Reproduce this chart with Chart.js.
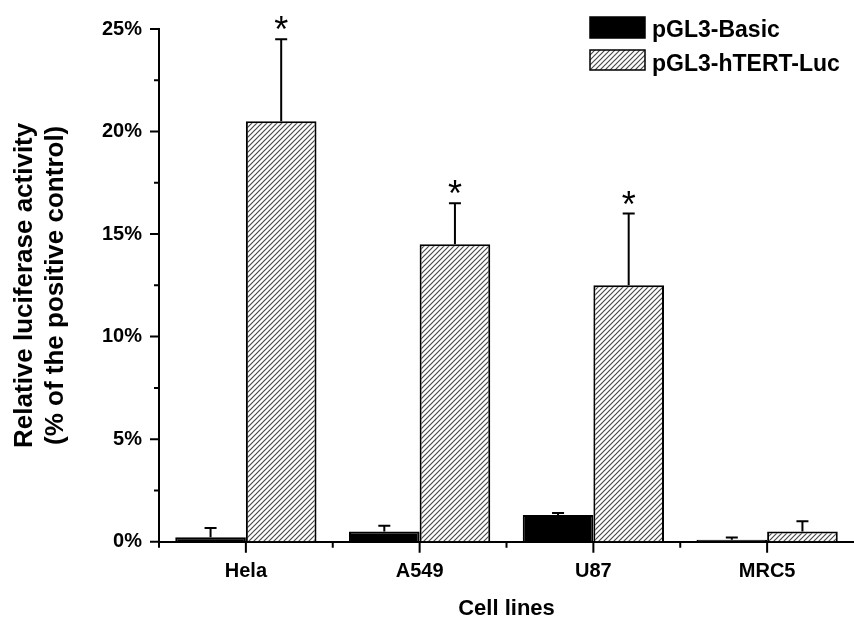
<!DOCTYPE html>
<html>
<head>
<meta charset="utf-8">
<script src="https://cdn.jsdelivr.net/npm/chart.js@4.4.1/dist/chart.umd.min.js"></script>
<style>
  body { margin: 0; background: #fff; }
  #wrap { width: 854px; height: 622px; }
</style>
</head>
<body>
<div id="wrap"><canvas id="myChart" width="854" height="622"></canvas></div>
<script>
// data (percent of positive control)
const cellLines = ['Hela', 'A549', 'U87', 'MRC5'];
const basicValues = [0.22, 0.5, 1.3, 0.1];
const basicErrors = [0.45, 0.28, 0.1, 0.1];
const htertValues = [20.5, 14.5, 12.5, 0.5];
const htertErrors = [4.0, 2.0, 3.5, 0.5];
const htertStars = [true, true, true, false];
const seriesNames = ['pGL3-Basic', 'pGL3-hTERT-Luc'];

const FONT = "'Liberation Sans', Arial, sans-serif";

// diagonal hatch fill
function makeHatch() {
  const c = document.createElement('canvas');
  c.width = 5; c.height = 5;
  const g = c.getContext('2d');
  g.fillStyle = '#fff';
  g.fillRect(0, 0, 5, 5);
  g.strokeStyle = '#4a4a4a';
  g.lineWidth = 1.2;
  g.beginPath();
  g.moveTo(-1, 6); g.lineTo(6, -1);
  g.moveTo(-1, 1); g.lineTo(1, -1);
  g.moveTo(4, 6); g.lineTo(6, 4);
  g.stroke();
  return g.createPattern(c, 'repeat');
}
const hatch = makeHatch();

// axis tick marks (major + minor)
const tickMarks = {
  id: 'tickMarks',
  afterDraw(chart) {
    const ctx = chart.ctx;
    const x = chart.scales.x, y = chart.scales.y;
    const area = chart.chartArea;
    ctx.save();
    ctx.strokeStyle = '#000';
    ctx.lineWidth = 2;
    ctx.beginPath();
    y.ticks.forEach((t) => {
      const py = y.getPixelForValue(t.value);
      const len = t.value % 5 === 0 ? 9 : 5;
      ctx.moveTo(area.left - len, py);
      ctx.lineTo(area.left, py);
    });
    cellLines.forEach((c, i) => {
      const px = x.getPixelForTick(i);
      ctx.moveTo(px, area.bottom);
      ctx.lineTo(px, area.bottom + 11);
    });
    for (let i = 0; i < cellLines.length; i++) {
      const px = x.getPixelForValue(i - 0.5);
      ctx.moveTo(px, area.bottom);
      ctx.lineTo(px, area.bottom + 6);
    }
    ctx.stroke();
    ctx.restore();
  }
};

// upward error bars + significance stars
const errorBars = {
  id: 'errorBars',
  afterDatasetsDraw(chart) {
    const ctx = chart.ctx;
    const y = chart.scales.y;
    const errs = [basicErrors, htertErrors];
    ctx.save();
    ctx.strokeStyle = '#000';
    ctx.lineWidth = 2;
    chart.data.datasets.forEach((ds, d) => {
      const meta = chart.getDatasetMeta(d);
      meta.data.forEach((bar, i) => {
        const top = y.getPixelForValue(ds.data[i] + errs[d][i]);
        ctx.beginPath();
        ctx.moveTo(bar.x, bar.y);
        ctx.lineTo(bar.x, top);
        ctx.moveTo(bar.x - 6, top);
        ctx.lineTo(bar.x + 6, top);
        ctx.stroke();
        if (d === 1 && htertStars[i]) {
          ctx.font = '36px ' + FONT;
          ctx.fillStyle = '#000';
          ctx.textAlign = 'center';
          ctx.textBaseline = 'alphabetic';
          const m = ctx.measureText('*');
          const mid = (m.actualBoundingBoxAscent - m.actualBoundingBoxDescent) / 2;
          ctx.fillText('*', bar.x, top - 16 + mid);
        }
      });
    });
    ctx.restore();
  }
};

// legend in the upper right
const boxLegend = {
  id: 'boxLegend',
  afterDraw(chart) {
    const ctx = chart.ctx;
    const rows = [{ top: 17, h: 21, base: 37 }, { top: 50, h: 20, base: 71 }];
    ctx.save();
    chart.data.datasets.forEach((ds, d) => {
      const r = rows[d];
      ctx.fillStyle = ds.backgroundColor;
      ctx.fillRect(590, r.top, 55, r.h);
      ctx.strokeStyle = '#000';
      ctx.lineWidth = 1.5;
      ctx.strokeRect(590, r.top, 55, r.h);
      ctx.fillStyle = '#000';
      ctx.font = 'bold 23px ' + FONT;
      ctx.textAlign = 'left';
      ctx.textBaseline = 'alphabetic';
      ctx.fillText(ds.label, 652, r.base);
    });
    ctx.restore();
  }
};

const ctx = document.getElementById('myChart');

new Chart(ctx, {
  type: 'bar',
  data: {
    labels: cellLines,
    datasets: [
      {
        label: seriesNames[0],
        data: basicValues,
        backgroundColor: '#000',
        borderColor: '#000',
        borderWidth: 2
      },
      {
        label: seriesNames[1],
        data: htertValues,
        backgroundColor: hatch,
        borderColor: '#000',
        borderWidth: 2
      }
    ]
  },
  plugins: [tickMarks, errorBars, boxLegend],
  options: {
    responsive: false,
    animation: false,
    categoryPercentage: 0.813,
    barPercentage: 1.0,
    layout: { padding: { top: 21, right: 0, left: 0, bottom: 0 } },
    plugins: {
      legend: { display: false },
      tooltip: { enabled: false }
    },
    scales: {
      x: {
        afterFit(scale) { scale.height = 80.3; },
        grid: { display: true, drawOnChartArea: false, drawTicks: false },
        border: { display: true, color: '#000', width: 2 },
        ticks: {
          color: '#000',
          padding: 18,
          font: { family: FONT, size: 20, weight: 'bold' }
        },
        title: {
          display: true,
          text: 'Cell lines',
          color: '#000',
          padding: { top: 0, bottom: 0 },
          font: { family: FONT, size: 22, weight: 'bold' }
        }
      },
      y: {
        min: 0,
        max: 25,
        afterFit(scale) { scale.width = 159; },
        grid: { display: true, drawOnChartArea: false, drawTicks: false },
        border: { display: true, color: '#000', width: 2 },
        ticks: {
          stepSize: 2.5,
          autoSkip: false,
          color: '#000',
          padding: 17,
          font: { family: FONT, size: 20, weight: 'bold' },
          callback: (v) => (v % 5 === 0 ? v + '%' : '')
        },
        title: {
          display: true,
          text: ['Relative luciferase activity', '(% of the positive control)'],
          color: '#000',
          padding: { top: 9, bottom: 0 },
          font: { family: FONT, size: 26, weight: 'bold', lineHeight: 1.2 }
        }
      }
    }
  }
});
</script>
</body>
</html>
